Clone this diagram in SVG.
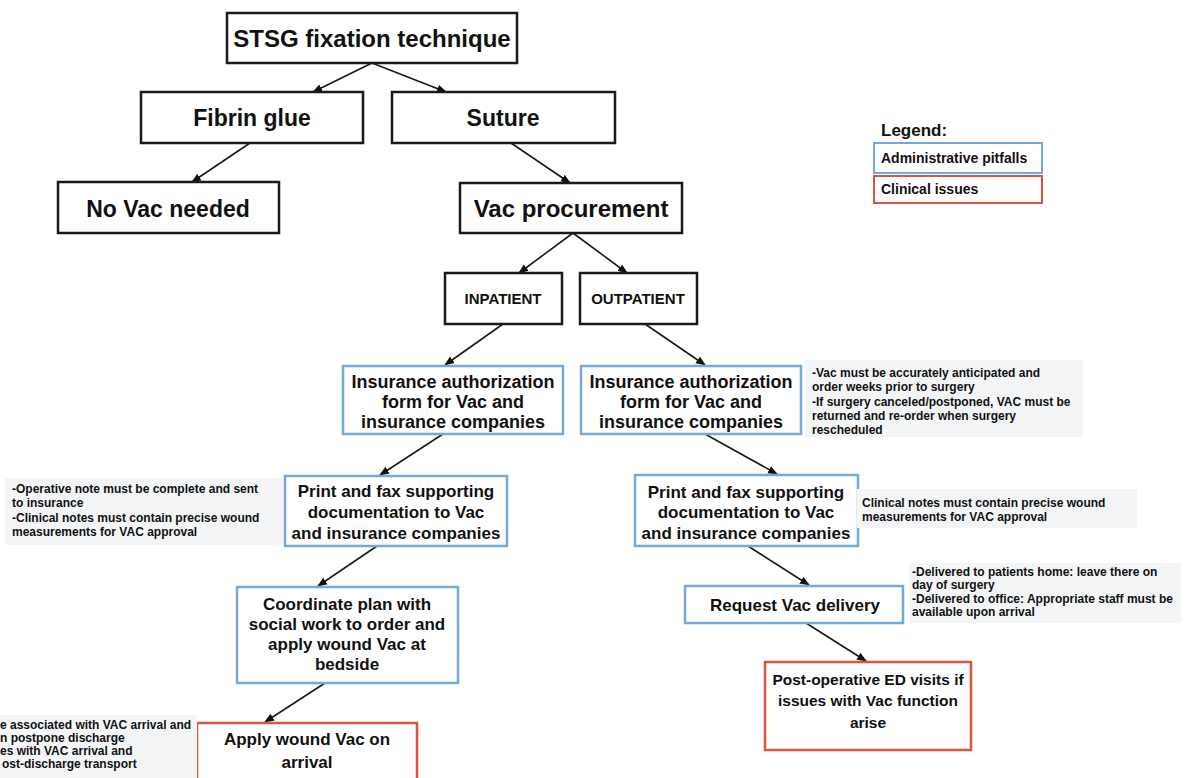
<svg xmlns="http://www.w3.org/2000/svg" width="1190" height="778" viewBox="0 0 1190 778">
<defs>
<marker id="ah" viewBox="0 0 10 10" refX="9" refY="5" markerWidth="10" markerHeight="10" markerUnits="userSpaceOnUse" orient="auto">
<path d="M0,1 L10,5 L0,9 z" fill="#111"/>
</marker>
<style>
text{font-family:"Liberation Sans",Arial,sans-serif;font-weight:bold;fill:#111}
.k{fill:#fff;stroke:#1a1a1a;stroke-width:2.5}
.b{fill:#fff;stroke:#74a9db;stroke-width:2.5}
.r{fill:#fff;stroke:#d9553b;stroke-width:2.5}
.lb{fill:#fff;stroke:#74a9db;stroke-width:2}
.lr{fill:#fff;stroke:#d9553b;stroke-width:2}
.note{fill:#f3f5f7}
.t24{font-size:24px}
.t23{font-size:23px}
.t18{font-size:18px}
.t17{font-size:17px}
.t16{font-size:15.5px}
.t15{font-size:15px}
.t14{font-size:14px}
.t12{font-size:12px}
.c{text-anchor:middle}
.ln{stroke:#1a1a1a;stroke-width:1.6;fill:none;marker-end:url(#ah)}
</style>
</defs>
<rect width="1190" height="778" fill="#fff"/>

<g id="connectors">
<line class="ln" x1="372" y1="63" x2="313" y2="92"/>
<line class="ln" x1="372" y1="63" x2="446" y2="92"/>
<line class="ln" x1="250" y1="143" x2="192" y2="182"/>
<line class="ln" x1="511" y1="143" x2="570" y2="183"/>
<line class="ln" x1="573" y1="233" x2="519" y2="273"/>
<line class="ln" x1="573" y1="233" x2="627" y2="273"/>
<line class="ln" x1="503" y1="324" x2="445" y2="365"/>
<line class="ln" x1="645" y1="324" x2="705" y2="365"/>
<line class="ln" x1="443" y1="434" x2="380" y2="475"/>
<line class="ln" x1="705" y1="434" x2="777" y2="474"/>
<line class="ln" x1="377" y1="546" x2="318" y2="586"/>
<line class="ln" x1="748" y1="546" x2="809" y2="585"/>
<line class="ln" x1="325" y1="683" x2="265" y2="722"/>
<line class="ln" x1="806" y1="623" x2="866" y2="661"/>
</g>

<g id="stsg"><rect class="k" x="227" y="13" width="290" height="50"/><text class="t24 c" x="372" y="47">STSG fixation technique</text></g>
<g id="fibrin"><rect class="k" x="141" y="92" width="222" height="51"/><text class="t23 c" x="252" y="126">Fibrin glue</text></g>
<g id="suture"><rect class="k" x="392" y="92" width="223" height="51"/><text class="t23 c" x="503" y="126">Suture</text></g>
<g id="novac"><rect class="k" x="58" y="182" width="221" height="51"/><text class="t23 c" x="168" y="217">No Vac needed</text></g>
<g id="vacproc"><rect class="k" x="460" y="183" width="222" height="50"/><text class="t24 c" x="571" y="217">Vac procurement</text></g>
<g id="inpatient"><rect class="k" x="445" y="273" width="117" height="51"/><text class="t15 c" x="503" y="304">INPATIENT</text></g>
<g id="outpatient"><rect class="k" x="580" y="273" width="117" height="51"/><text class="t15 c" x="638" y="304">OUTPATIENT</text></g>

<g id="ins-left"><rect class="b" x="343" y="366" width="220" height="68"/>
<text class="t18 c" x="453" y="388">Insurance authorization</text>
<text class="t18 c" x="453" y="408">form for Vac and</text>
<text class="t18 c" x="453" y="428">insurance companies</text></g>
<g id="ins-right"><rect class="b" x="581" y="366" width="220" height="68"/>
<text class="t18 c" x="691" y="388">Insurance authorization</text>
<text class="t18 c" x="691" y="408">form for Vac and</text>
<text class="t18 c" x="691" y="428">insurance companies</text></g>

<g id="print-left"><rect class="b" x="285" y="476" width="222" height="70"/>
<text class="t17 c" x="396" y="497">Print and fax supporting</text>
<text class="t17 c" x="396" y="518">documentation to Vac</text>
<text class="t17 c" x="396" y="539">and insurance companies</text></g>
<g id="print-right"><rect class="b" x="635" y="475" width="223" height="71"/>
<text class="t17 c" x="746" y="498">Print and fax supporting</text>
<text class="t17 c" x="746" y="518">documentation to Vac</text>
<text class="t17 c" x="746" y="539">and insurance companies</text></g>

<g id="coordinate"><rect class="b" x="237" y="587" width="221" height="96"/>
<text class="t17 c" x="347" y="610">Coordinate plan with</text>
<text class="t17 c" x="347" y="630">social work to order and</text>
<text class="t17 c" x="347" y="650">apply wound Vac at</text>
<text class="t17 c" x="347" y="670">bedside</text></g>

<g id="request"><rect class="b" x="685" y="586" width="218" height="37"/>
<text class="t17 c" x="795" y="611">Request Vac delivery</text></g>

<g id="postop"><rect class="r" x="765" y="662" width="206" height="88"/>
<text class="t16 c" x="868" y="685">Post-operative ED visits if</text>
<text class="t16 c" x="868" y="706">issues with Vac function</text>
<text class="t16 c" x="868" y="728">arise</text></g>

<g id="apply"><rect class="r" x="197" y="723" width="220" height="70"/>
<text class="t17 c" x="307" y="745">Apply wound Vac on</text>
<text class="t17 c" x="307" y="768">arrival</text></g>

<g id="legend">
<text class="t17" x="881" y="136">Legend:</text>
<rect class="lb" x="874" y="143" width="168" height="30"/>
<text class="t14" x="881" y="163">Administrative pitfalls</text>
<rect class="lr" x="874" y="176" width="168" height="27"/>
<text class="t14" x="881" y="194">Clinical issues</text>
</g>

<g id="note-ins-right">
<rect class="note" x="805" y="360" width="278" height="77"/>
<text class="t12" x="812" y="377">-Vac must be accurately anticipated and</text>
<text class="t12" x="812" y="391">order weeks prior to surgery</text>
<text class="t12" x="812" y="406">-If surgery canceled/postponed, VAC must be</text>
<text class="t12" x="812" y="420">returned and re-order when surgery</text>
<text class="t12" x="812" y="434">rescheduled</text>
</g>
<g id="note-print-right">
<rect class="note" x="857" y="489" width="280" height="39"/>
<text class="t12" x="862" y="507">Clinical notes must contain precise wound</text>
<text class="t12" x="862" y="521">measurements for VAC approval</text>
</g>
<g id="note-request">
<rect class="note" x="909" y="563" width="272" height="60"/>
<text class="t12" x="912" y="576">-Delivered to patients home: leave there on</text>
<text class="t12" x="912" y="589">day of surgery</text>
<text class="t12" x="912" y="603">-Delivered to office: Appropriate staff must be</text>
<text class="t12" x="912" y="616">available upon arrival</text>
</g>
<g id="note-print-left">
<rect class="note" x="5" y="478" width="278" height="67"/>
<text class="t12" x="12" y="493">-Operative note must be complete and sent</text>
<text class="t12" x="12" y="507">to insurance</text>
<text class="t12" x="12" y="522">-Clinical notes must contain precise wound</text>
<text class="t12" x="12" y="536">measurements for VAC approval</text>
</g>
<g id="note-apply">
<rect class="note" x="0" y="715" width="197" height="63"/>
<text class="t12" x="0" y="729">e associated with VAC arrival and</text>
<text class="t12" x="0" y="742">n postpone discharge</text>
<text class="t12" x="0" y="755">es with VAC arrival and</text>
<text class="t12" x="2" y="768">ost-discharge transport</text>
</g>
</svg>
